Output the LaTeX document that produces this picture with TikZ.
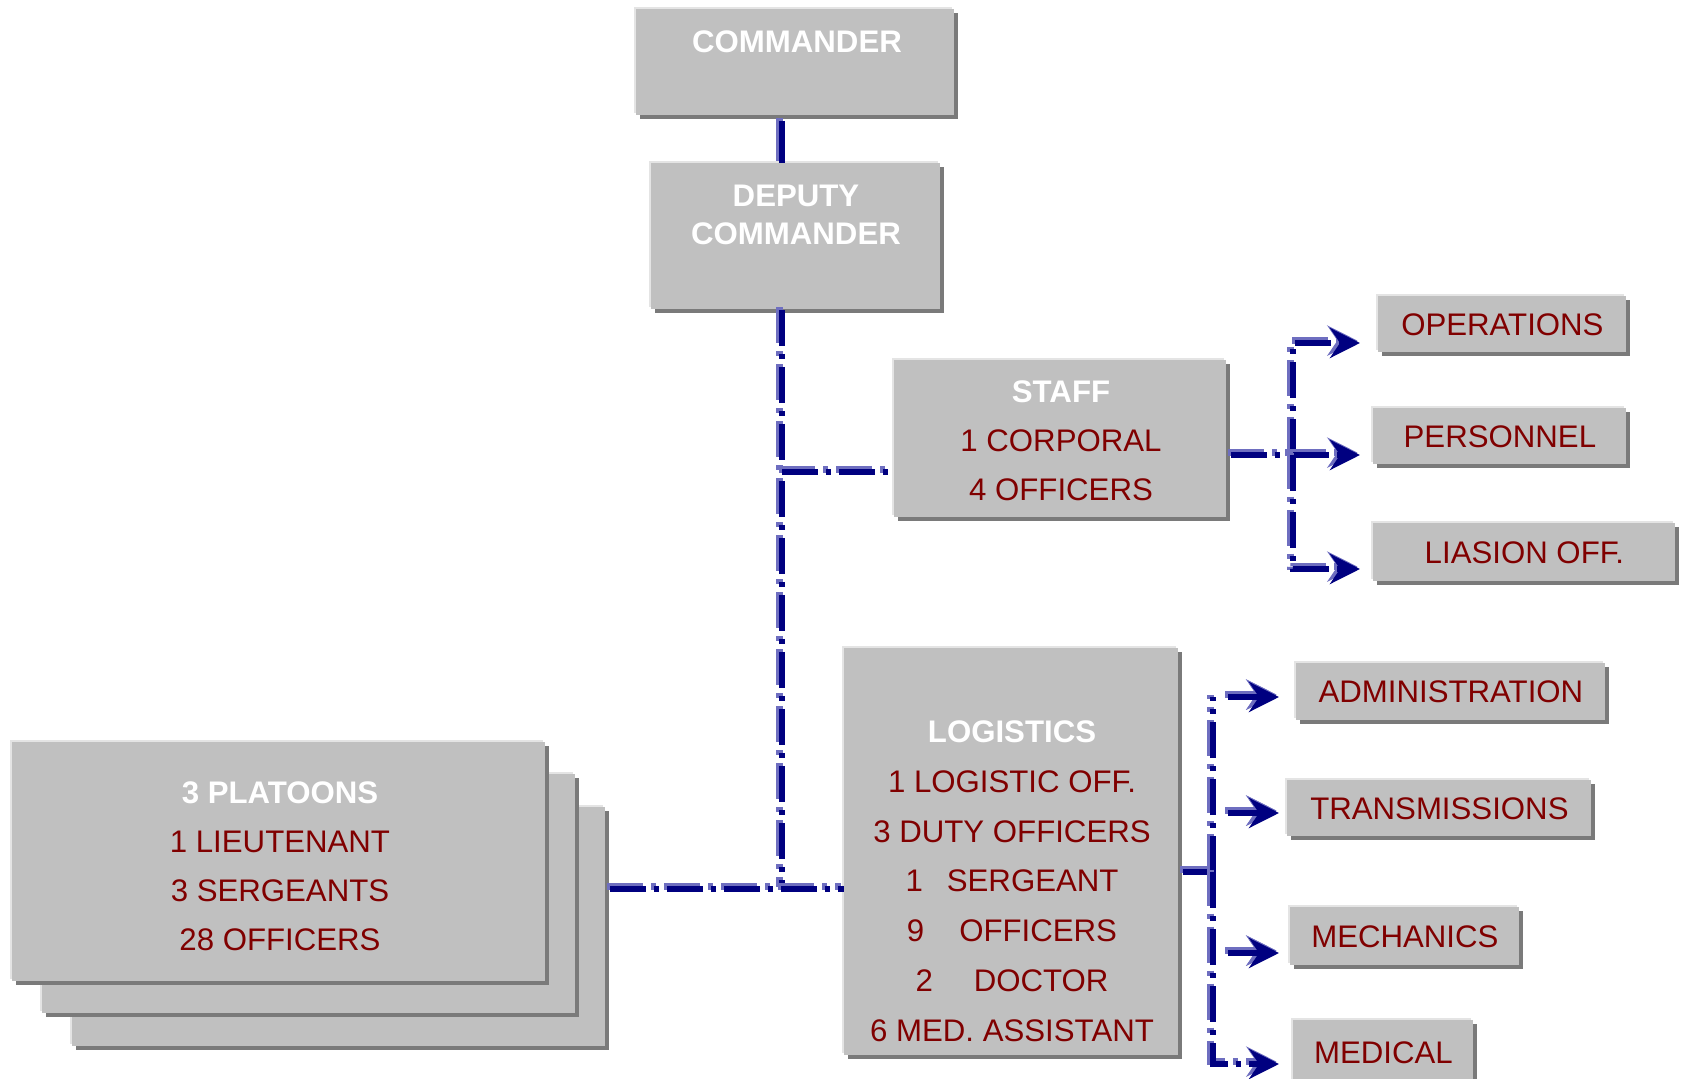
\documentclass[tikz,border=0pt]{standalone}
\usepackage{fontspec}
\setmainfont{Liberation Sans}
\usetikzlibrary{arrows.meta,shadows}
\definecolor{boxgray}{HTML}{C0C0C0}
\definecolor{boxshade}{HTML}{7A7A7A}
\definecolor{boxlight}{HTML}{E4E4E4}
\definecolor{navy}{HTML}{000080}
\definecolor{linkshade}{HTML}{6E6EC0}
\definecolor{itemred}{HTML}{800000}
\begin{document}
\begin{tikzpicture}[x=0.5pt,y=-0.5pt,
  txt/.style={font=\fontsize{15.6pt}{18pt}\selectfont, inner sep=0pt},
  head/.style={txt, font=\fontsize{15.6pt}{18pt}\selectfont\bfseries, text=white, anchor=base},
  item/.style={txt, text=itemred, anchor=base},
  panel/.style={rectangle, fill=boxgray, inner sep=0pt, anchor=north west,
    general shadow={fill=boxlight, shadow xshift=-1pt, shadow yshift=1pt},
    general shadow={fill=boxshade, shadow xshift=2pt, shadow yshift=-2pt}},
  tag/.style={panel, txt, text=itemred},
  dashdot/.style={dash pattern=on 18pt off 4pt on 2.5pt off 4pt},
  link/.style={draw=navy, line width=3.3pt, dashdot,
    >={Stealth[length=15pt,width=15pt,inset=5pt]},
    preaction={draw=linkshade, line width=3.3pt, dashdot,
      transform canvas={shift={(-1.3pt,1.2pt)}}}},
  plainlink/.style={link, solid, preaction={draw=linkshade, line width=3.3pt, solid,
      transform canvas={shift={(-1.3pt,1.2pt)}}}}
]
\clip (0,0) rectangle (1682,1079);
\useasboundingbox (0,0) rectangle (1682,1079);

% ---- command chain ----
\node[panel, minimum width=159pt, minimum height=53pt] (cmd) at (636,9) {};
\node[head] (cmd-t) at (797,53) {COMMANDER};
\node[panel, minimum width=144.5pt, minimum height=73pt] (dep) at (651,163) {};
\node[head] (dep-t1) at (796,207) {DEPUTY};
\node[head] (dep-t2) at (796,245) {COMMANDER};

% ---- staff ----
\node[panel, minimum width=166pt, minimum height=78.5pt] (staff) at (894,360) {};
\node[head] (staff-t0) at (1061,403) {STAFF};
\node[item] (staff-t1) at (1061,452) {1 CORPORAL};
\node[item] (staff-t2) at (1061,501) {4 OFFICERS};

\node[tag, minimum width=124pt, minimum height=28pt] (ops) at (1378,296) {OPERATIONS};
\node[tag, minimum width=126.5pt, minimum height=28pt] (pers) at (1373,408) {PERSONNEL};
\node[tag, minimum width=151pt, minimum height=29pt] (liai) at (1373,523) {LIASION OFF.};

% ---- logistics ----
\node[panel, minimum width=167pt, minimum height=203.5pt] (logi) at (844,648) {};
\node[head] (logi-t0) at (1012,742) {LOGISTICS};
\node[item] (logi-t1) at (1012,792) {1 LOGISTIC OFF.};
\node[item] (logi-t2) at (1012,842) {3 DUTY OFFICERS};
\node[item] (logi-t3) at (1012,891) {1\hspace*{12pt}SERGEANT};
\node[item] (logi-t4) at (1012,941) {9\hspace*{17.5pt}OFFICERS};
\node[item] (logi-t5) at (1012,991) {2\hspace*{20.5pt}DOCTOR};
\node[item] (logi-t6) at (1012,1041) {6 MED. ASSISTANT};

\node[tag, minimum width=154.5pt, minimum height=28.5pt] (admin) at (1296,663) {ADMINISTRATION};
\node[tag, minimum width=152pt, minimum height=28pt] (trans) at (1287,780) {TRANSMISSIONS};
\node[tag, minimum width=114.5pt, minimum height=29pt] (mech) at (1290,907) {MECHANICS};
\node[tag, minimum width=90pt, minimum height=32pt] (med) at (1293,1020) {MEDICAL};

% ---- platoons (stacked cards) ----
\node[panel, minimum width=266.5pt, minimum height=119.5pt] (plat3) at (72,807) {};
\node[panel, minimum width=266.5pt, minimum height=119.5pt] (plat2) at (42,774) {};
\node[panel, minimum width=266.5pt, minimum height=119.5pt] (plat1) at (12,742) {};
\node[head] (plat-t0) at (280,803) {3 PLATOONS};
\node[item] (plat-t1) at (280,852) {1 LIEUTENANT};
\node[item] (plat-t2) at (280,901) {3 SERGEANTS};
\node[item] (plat-t3) at (280,950) {28 OFFICERS};

% ---- junction points and arrow ends ----
\coordinate (tj) at (782,472);
\coordinate (pj) at (782,889);
\coordinate (sj) at (1293,455);
\coordinate (opsin) at (1360,343);
\coordinate (persin) at (1360,455);
\coordinate (liain) at (1360,569);
\coordinate (lj) at (1213,872);
\coordinate (ltop) at (1213,697);
\coordinate (lbot) at (1213,1064);
\coordinate (adminout) at (1228,697);
\coordinate (adminin) at (1279,697);
\coordinate (transout) at (1228,813);
\coordinate (transin) at (1279,813);
\coordinate (mechout) at (1228,953);
\coordinate (mechin) at (1279,953);
\coordinate (medin) at (1279,1064);

% ---- connectors ----
\draw[plainlink] ([yshift=-2.5pt]cmd.south -| tj) -- (dep.north -| tj);
\draw[link] (dep.south -| tj) -- (pj);
\draw[link] (tj) -- (staff.west |- tj);
\draw[link] ([xshift=2pt]plat3.east |- pj) -- (logi.west |- pj);

\draw[link] ([xshift=2pt]staff.east |- sj) -- (sj);
\draw[link,->] (sj) |- (opsin);
\draw[link,->] (sj) -- (persin);
\draw[link,->] (sj) |- (liain);

\draw[plainlink] ([xshift=2pt]logi.east |- lj) -- (lj);
\draw[link] (lj) -- (ltop);
\draw[link,->] (lj) |- (medin);
\draw[plainlink,->] (adminout) -- (adminin);
\draw[plainlink,->] (transout) -- (transin);
\draw[plainlink,->] (mechout) -- (mechin);
\end{tikzpicture}
\end{document}
